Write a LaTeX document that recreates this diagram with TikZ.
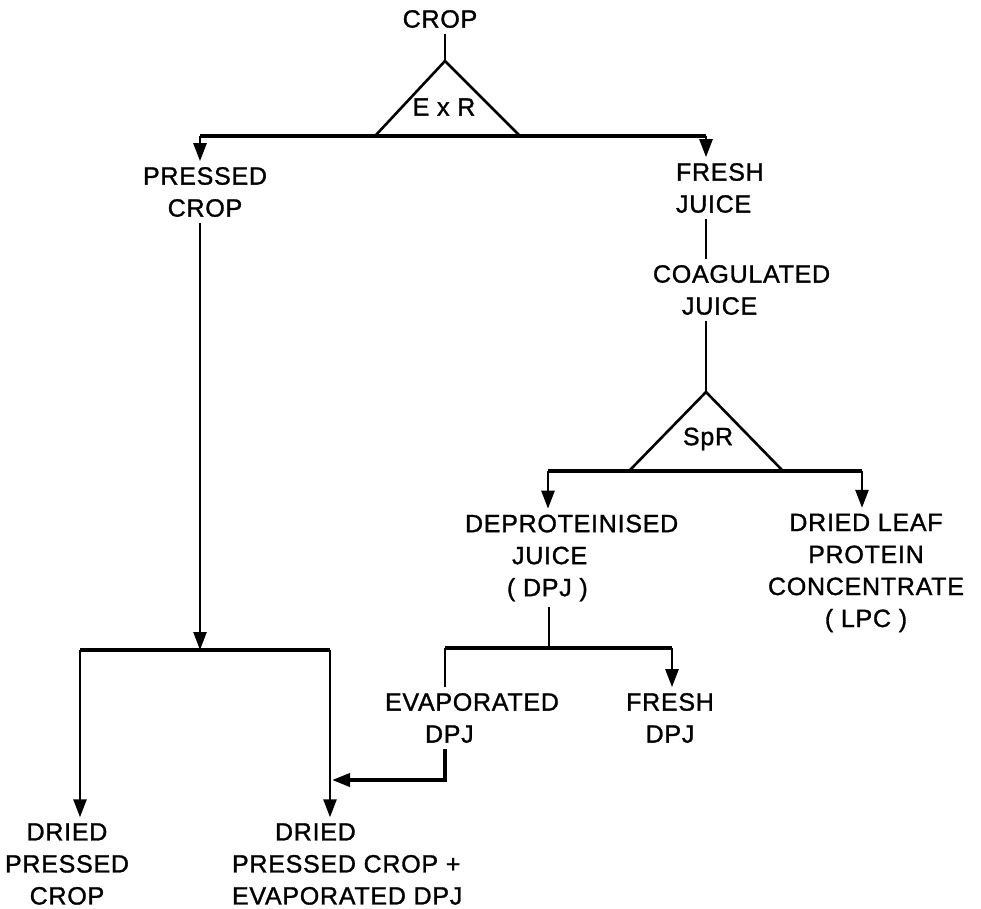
\documentclass[tikz,border=0pt]{standalone}
\usepackage{fontspec}
\setmainfont[FakeBold=1.2, LetterSpace=3]{Liberation Sans}
\usetikzlibrary{arrows.meta}

\newcommand{\lbl}{\fontsize{25pt}{32pt}\selectfont}

\begin{document}
\begin{tikzpicture}[x=1pt, y=-1pt,
  txt/.style={font=\lbl, inner sep=0pt, outer sep=6pt, align=center},
  ln/.style={line width=2.6pt},
  bar/.style={line width=3.8pt},
  tip/.style={-{Triangle[length=18pt,width=13pt]}},
  arr/.style={ln, tip}]

\fill[white] (0,0) rectangle (981,908);
\useasboundingbox (0,0) rectangle (981,908);

% ---- first separation: crop into pressed crop and fresh juice
\node[txt] (crop) at (440,19) {CROP};
\coordinate (apex1) at (445,61);
\coordinate (t1l) at (375,136);
\coordinate (t1r) at (520,136);
\node[txt] (exr) at (444,107) {E x R};
\draw[ln] (crop.south -| apex1) -- (apex1);
\draw[ln, line join=miter] (t1l) -- (apex1) -- (t1r);

\coordinate (c1l) at (200,136);
\coordinate (c1r) at (706,136);
\node[txt] (pressed) at (205,192) {PRESSED\\CROP};
\node[txt, align=left, anchor=west] (fresh) at (670,188) {FRESH\\JUICE};
\draw[bar] (c1l) -- (c1r);
\draw[arr] (c1l) -- (c1l |- pressed.north);
\draw[arr] (c1r) -- (c1r |- fresh.north);

% ---- juice line
\node[txt, align=left, anchor=west] (coag) at (647,290)
  {COAGULATED\\\hspace*{29pt}JUICE};
\draw[ln] (fresh.south -| c1r) -- (coag.north -| c1r);

\coordinate (apex2) at (706,392);
\coordinate (t2l) at (630,470);
\coordinate (t2r) at (782,470);
\node[txt] (spr) at (708,439) {SpR};
\draw[ln] (coag.south -| apex2) -- (apex2);
\draw[ln, line join=miter] (t2l) -- (apex2) -- (t2r);

\coordinate (c2l) at (548,471);
\coordinate (c2r) at (862,471);
\node[txt, align=left, anchor=west] (deprot) at (459,558)
  {DEPROTEINISED\\\hspace*{47pt}JUICE\\\hspace*{42pt}( DPJ )};
\node[txt] (lpc) at (866,573)
  {DRIED LEAF\\PROTEIN\\CONCENTRATE\\( LPC )};
\draw[bar] (c2l) -- (c2r);
\draw[arr] (c2l) -- (c2l |- deprot.north);
\draw[arr] (c2r) -- (c2r |- lpc.north);

% ---- deproteinised juice
\coordinate (c3m) at (549,648);
\coordinate (c3l) at (445,648);
\coordinate (c3r) at (672,648);
\node[txt, align=left, anchor=west] (evap) at (379,718)
  {EVAPORATED\\\hspace*{40pt}DPJ};
\node[txt] (freshdpj) at (670,718) {FRESH\\DPJ};
\draw[ln] (deprot.south -| c3m) -- (c3m);
\draw[bar] (c3l) -- (c3r);
\draw[ln] (c3l) -- (c3l |- evap.north);
\draw[arr] (c3r) -- (c3r |- freshdpj.north);

% ---- drying of the pressed crop
\coordinate (c4l) at (80,650);
\coordinate (c4m) at (200,650);
\coordinate (c4r) at (330,650);
\coordinate (mj) at (332,780);
\node[txt] (driedpc) at (67,864) {DRIED\\PRESSED\\CROP};
\node[txt, align=left, anchor=west] (driedmix) at (226,864)
  {\hspace*{43pt}DRIED\\PRESSED CROP +\\EVAPORATED DPJ};
\draw[arr] (pressed.south -| c4m) -- (c4m);
\draw[bar] (c4l) -- (c4r);
\draw[arr] (c4l) -- (c4l |- driedpc.north);
\draw[arr] (c4r) -- (c4r |- driedmix.north);
\draw[bar, tip] (evap.south -| c3l) |- (mj);

\end{tikzpicture}
\end{document}
